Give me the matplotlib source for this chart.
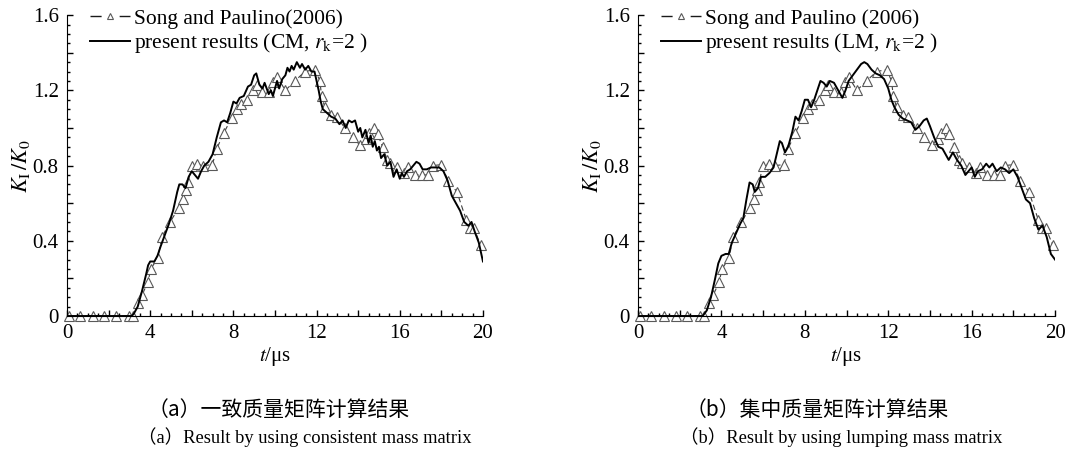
import numpy as np
import matplotlib.pyplot as plt
from matplotlib.ticker import MultipleLocator, FuncFormatter

plt.rcParams['font.family'] = ['Liberation Serif', 'DejaVu Serif']
plt.rcParams['mathtext.fontset'] = 'stix'

# Song and Paulino (2006), same reference data in both panels
ref_t = [0.08, 0.64, 1.25, 1.8, 2.37, 2.96, 3.17, 3.39, 3.6, 3.89, 4.03, 4.37, 4.56,
         4.96, 5.38, 5.57, 5.7, 5.8, 6.0, 6.27, 6.56, 6.99, 7.2, 7.55, 7.92, 8.16,
         8.35, 8.67, 8.96, 9.12, 9.39, 9.73, 9.92, 10.11, 10.5, 10.96, 11.44, 11.92,
         12.16, 12.24, 12.4, 12.69, 12.96, 13.36, 13.73, 14.08, 14.4, 14.53, 14.75,
         14.93, 15.17, 15.4, 15.55, 15.87, 16.19, 16.4, 16.72, 17.09, 17.36, 17.6,
         18.0, 18.32, 18.75, 19.2, 19.36, 19.55, 19.89]
ref_k = [0, 0, 0, 0, 0, 0, 0, 0.067, 0.11, 0.18, 0.25, 0.31, 0.42,
         0.50, 0.577, 0.62, 0.67, 0.71, 0.80, 0.81, 0.80, 0.805, 0.89, 0.975, 1.055, 1.10,
         1.13, 1.15, 1.20, 1.23, 1.19, 1.19, 1.245, 1.27, 1.20, 1.25, 1.30, 1.31,
         1.25, 1.17, 1.11, 1.07, 1.06, 1.00, 0.95, 0.91, 0.94, 0.975, 1.00,
         0.97, 0.90, 0.83, 0.815, 0.79, 0.76, 0.79, 0.75, 0.75, 0.75, 0.80,
         0.805, 0.72, 0.66, 0.51, 0.47, 0.47, 0.377]

# present results, consistent mass (CM)
cm_t = [0, 3.1, 3.2, 3.4, 3.6, 3.8, 3.9, 4.0, 4.2, 4.35, 4.5, 4.7, 4.9, 5.1, 5.3, 5.4,
        5.55, 5.7, 5.85, 6.0, 6.15, 6.3, 6.45, 6.6, 6.8, 7.0, 7.2, 7.4, 7.55, 7.7, 7.85,
        8.0, 8.15, 8.3, 8.5, 8.7, 8.85, 9.0, 9.1, 9.25, 9.4, 9.5, 9.6, 9.7, 9.8, 9.9,
        10.0, 10.1, 10.2, 10.35, 10.5, 10.6, 10.7, 10.8, 10.9, 11.05, 11.2, 11.3, 11.45,
        11.6, 11.75, 11.9, 12.0, 12.1, 12.2, 12.3, 12.5, 12.7, 12.9, 13.1, 13.25, 13.4,
        13.55, 13.7, 13.85, 14.0, 14.1, 14.2, 14.35, 14.5, 14.6, 14.7, 14.8, 14.9, 15.0,
        15.1, 15.25, 15.4, 15.55, 15.7, 15.85, 16.0, 16.1, 16.2, 16.35, 16.5, 16.65, 16.8,
        16.95, 17.1, 17.3, 17.5, 17.7, 17.9, 18.1, 18.3, 18.5, 18.7, 18.9, 19.1, 19.3,
        19.45, 19.6, 19.8, 20.0]
cm_k = [0, 0, 0.01, 0.05, 0.13, 0.22, 0.27, 0.29, 0.29, 0.32, 0.37, 0.43, 0.49, 0.56, 0.66, 0.70,
        0.70, 0.68, 0.74, 0.77, 0.75, 0.73, 0.77, 0.80, 0.82, 0.86, 0.95, 1.03, 1.04, 1.03, 1.08,
        1.14, 1.13, 1.16, 1.17, 1.22, 1.23, 1.28, 1.29, 1.23, 1.21, 1.24, 1.21, 1.18, 1.20, 1.17,
        1.21, 1.25, 1.21, 1.26, 1.28, 1.32, 1.30, 1.33, 1.31, 1.35, 1.32, 1.34, 1.31,
        1.33, 1.30, 1.30, 1.25, 1.20, 1.14, 1.10, 1.08, 1.06, 1.05, 1.02, 1.04, 1.00,
        1.04, 1.03, 1.04, 0.98, 1.00, 0.95, 0.99, 0.92, 0.96, 0.90, 0.93, 0.88, 0.90,
        0.84, 0.86, 0.80, 0.82, 0.74, 0.78, 0.73, 0.76, 0.74, 0.77, 0.78, 0.80, 0.82,
        0.81, 0.78, 0.78, 0.79, 0.79, 0.79, 0.77, 0.72, 0.64, 0.60, 0.56, 0.50, 0.48,
        0.50, 0.45, 0.39, 0.29]

# present results, lumped mass (LM)
lm_t = [0, 3.1, 3.3, 3.5, 3.7, 3.85, 4.0, 4.2, 4.35, 4.5, 4.7, 4.9, 5.05, 5.2, 5.35, 5.5,
        5.6, 5.75, 5.9, 6.1, 6.3, 6.5, 6.65, 6.8, 6.9, 7.05, 7.2, 7.4, 7.55, 7.7, 7.85,
        8.0, 8.15, 8.3, 8.45, 8.6, 8.75, 8.9, 9.05, 9.2, 9.4, 9.6, 9.8, 9.95, 10.1, 10.3,
        10.5, 10.7, 10.85, 11.0, 11.2, 11.4, 11.6, 11.8, 12.0, 12.15, 12.3, 12.5, 12.7,
        12.9, 13.1, 13.3, 13.5, 13.7, 13.85, 14.0, 14.2, 14.4, 14.6, 14.75, 14.9, 15.1,
        15.3, 15.5, 15.7, 15.85, 16.0, 16.15, 16.3, 16.5, 16.7, 16.85, 17.0, 17.2, 17.4,
        17.6, 17.8, 18.0, 18.2, 18.4, 18.6, 18.8, 19.0, 19.2, 19.4, 19.6, 19.8, 20.0]
lm_k = [0, 0, 0.03, 0.10, 0.20, 0.28, 0.32, 0.33, 0.33, 0.39, 0.44, 0.49, 0.52, 0.62, 0.71, 0.70,
        0.66, 0.68, 0.74, 0.74, 0.76, 0.79, 0.86, 0.93, 0.92, 0.87, 0.90, 0.98, 1.06, 1.04, 1.09,
        1.15, 1.15, 1.11, 1.15, 1.20, 1.25, 1.24, 1.22, 1.25, 1.24, 1.20, 1.16, 1.20, 1.25, 1.28,
        1.31, 1.34, 1.35, 1.34, 1.31, 1.29, 1.28, 1.26, 1.21, 1.15, 1.11, 1.07, 1.05,
        1.04, 1.03, 0.99, 1.01, 1.04, 1.05, 1.01, 0.95, 0.90, 0.89, 0.86, 0.83, 0.87,
        0.83, 0.80, 0.75, 0.77, 0.79, 0.74, 0.77, 0.78, 0.81, 0.79, 0.81, 0.77, 0.79,
        0.78, 0.76, 0.78, 0.74, 0.68, 0.62, 0.60, 0.52, 0.46, 0.48, 0.42, 0.33, 0.30]

ref_label = ['Song and Paulino(2006)', 'Song and Paulino (2006)']
cur_label = [r'present results (CM, $r_{\rm k}$=2 )', r'present results (LM, $r_{\rm k}$=2 )']
cap_cn = ['（a）一致质量矩阵计算结果', '（b）集中质量矩阵计算结果']
cap_en = ['（a）Result by using consistent mass matrix', '（b）Result by using lumping mass matrix']


def fmt_y(v, pos):
    if abs(v / 0.4 - round(v / 0.4)) > 1e-6:
        return ''
    return '0' if abs(v) < 1e-9 else '%.1f' % v


def fmt_x(v, pos):
    if abs(v / 4 - round(v / 4)) > 1e-6:
        return ''
    return '%d' % round(v)


def panel(ax, t, k, i):
    ax.plot(ref_t, ref_k, linestyle=(0, (5, 3)), color='0.25', lw=0.8,
            marker='^', markersize=6.5, markerfacecolor='white',
            markeredgecolor='0.35', markeredgewidth=0.8, clip_on=False,
            label=ref_label[i])
    ax.plot(t, k, color='black', lw=1.4, label=cur_label[i])
    ax.set_xlim(0, 20)
    ax.set_ylim(0, 1.6)
    ax.spines['top'].set_visible(False)
    ax.spines['right'].set_visible(False)
    ax.xaxis.set_major_locator(MultipleLocator(2))
    ax.xaxis.set_minor_locator(MultipleLocator(0.5))
    ax.yaxis.set_major_locator(MultipleLocator(0.2))
    ax.yaxis.set_minor_locator(MultipleLocator(0.05))
    ax.xaxis.set_major_formatter(FuncFormatter(fmt_x))
    ax.yaxis.set_major_formatter(FuncFormatter(fmt_y))
    ax.tick_params(which='both', direction='in', labelsize=15, width=1)
    ax.tick_params(which='major', length=4.5, pad=6)
    ax.tick_params(which='minor', length=2.5)
    ax.set_xlabel(r'$t$/μs', fontsize=15, labelpad=1)
    ax.set_ylabel(r'$K_{\rm I}\,/K_0$', fontsize=16)
    ax.yaxis.set_label_coords(-0.085, 0.5)
    leg = ax.legend(loc='upper left', bbox_to_anchor=(0.035, 1.05), frameon=False,
                    fontsize=15.5, numpoints=1, handlelength=1.85, handletextpad=0.2,
                    labelspacing=0.12, borderaxespad=0)
    h = leg.legend_handles[0]
    h.set_markersize(4.5)
    h.set_linewidth(1.0)
    h.set_linestyle((0, (8, 13)))
    h.set_color('0.1')
    h.set_markeredgecolor('0.35')


fig = plt.figure(figsize=(10.79, 4.58), dpi=100)
ax1 = fig.add_axes([0.0621, 0.31, 0.3855, 0.657])
ax2 = fig.add_axes([0.5913, 0.31, 0.3865, 0.657])
panel(ax1, cm_t, cm_k, 0)
panel(ax2, lm_t, lm_k, 1)

cjk = ['Noto Sans CJK SC', 'DejaVu Sans']
for i, xc in enumerate([0.258, 0.757]):
    fig.text(xc, 0.105, cap_cn[i], ha='center', va='center', fontsize=15, family=cjk)
for i, xl in enumerate([0.128, 0.63]):
    fig.text(xl, 0.045, cap_en[i], ha='left', va='center', fontsize=13.3,
             family=['Liberation Serif', 'Noto Sans CJK SC'])

fig.savefig('out.png', dpi=100)
